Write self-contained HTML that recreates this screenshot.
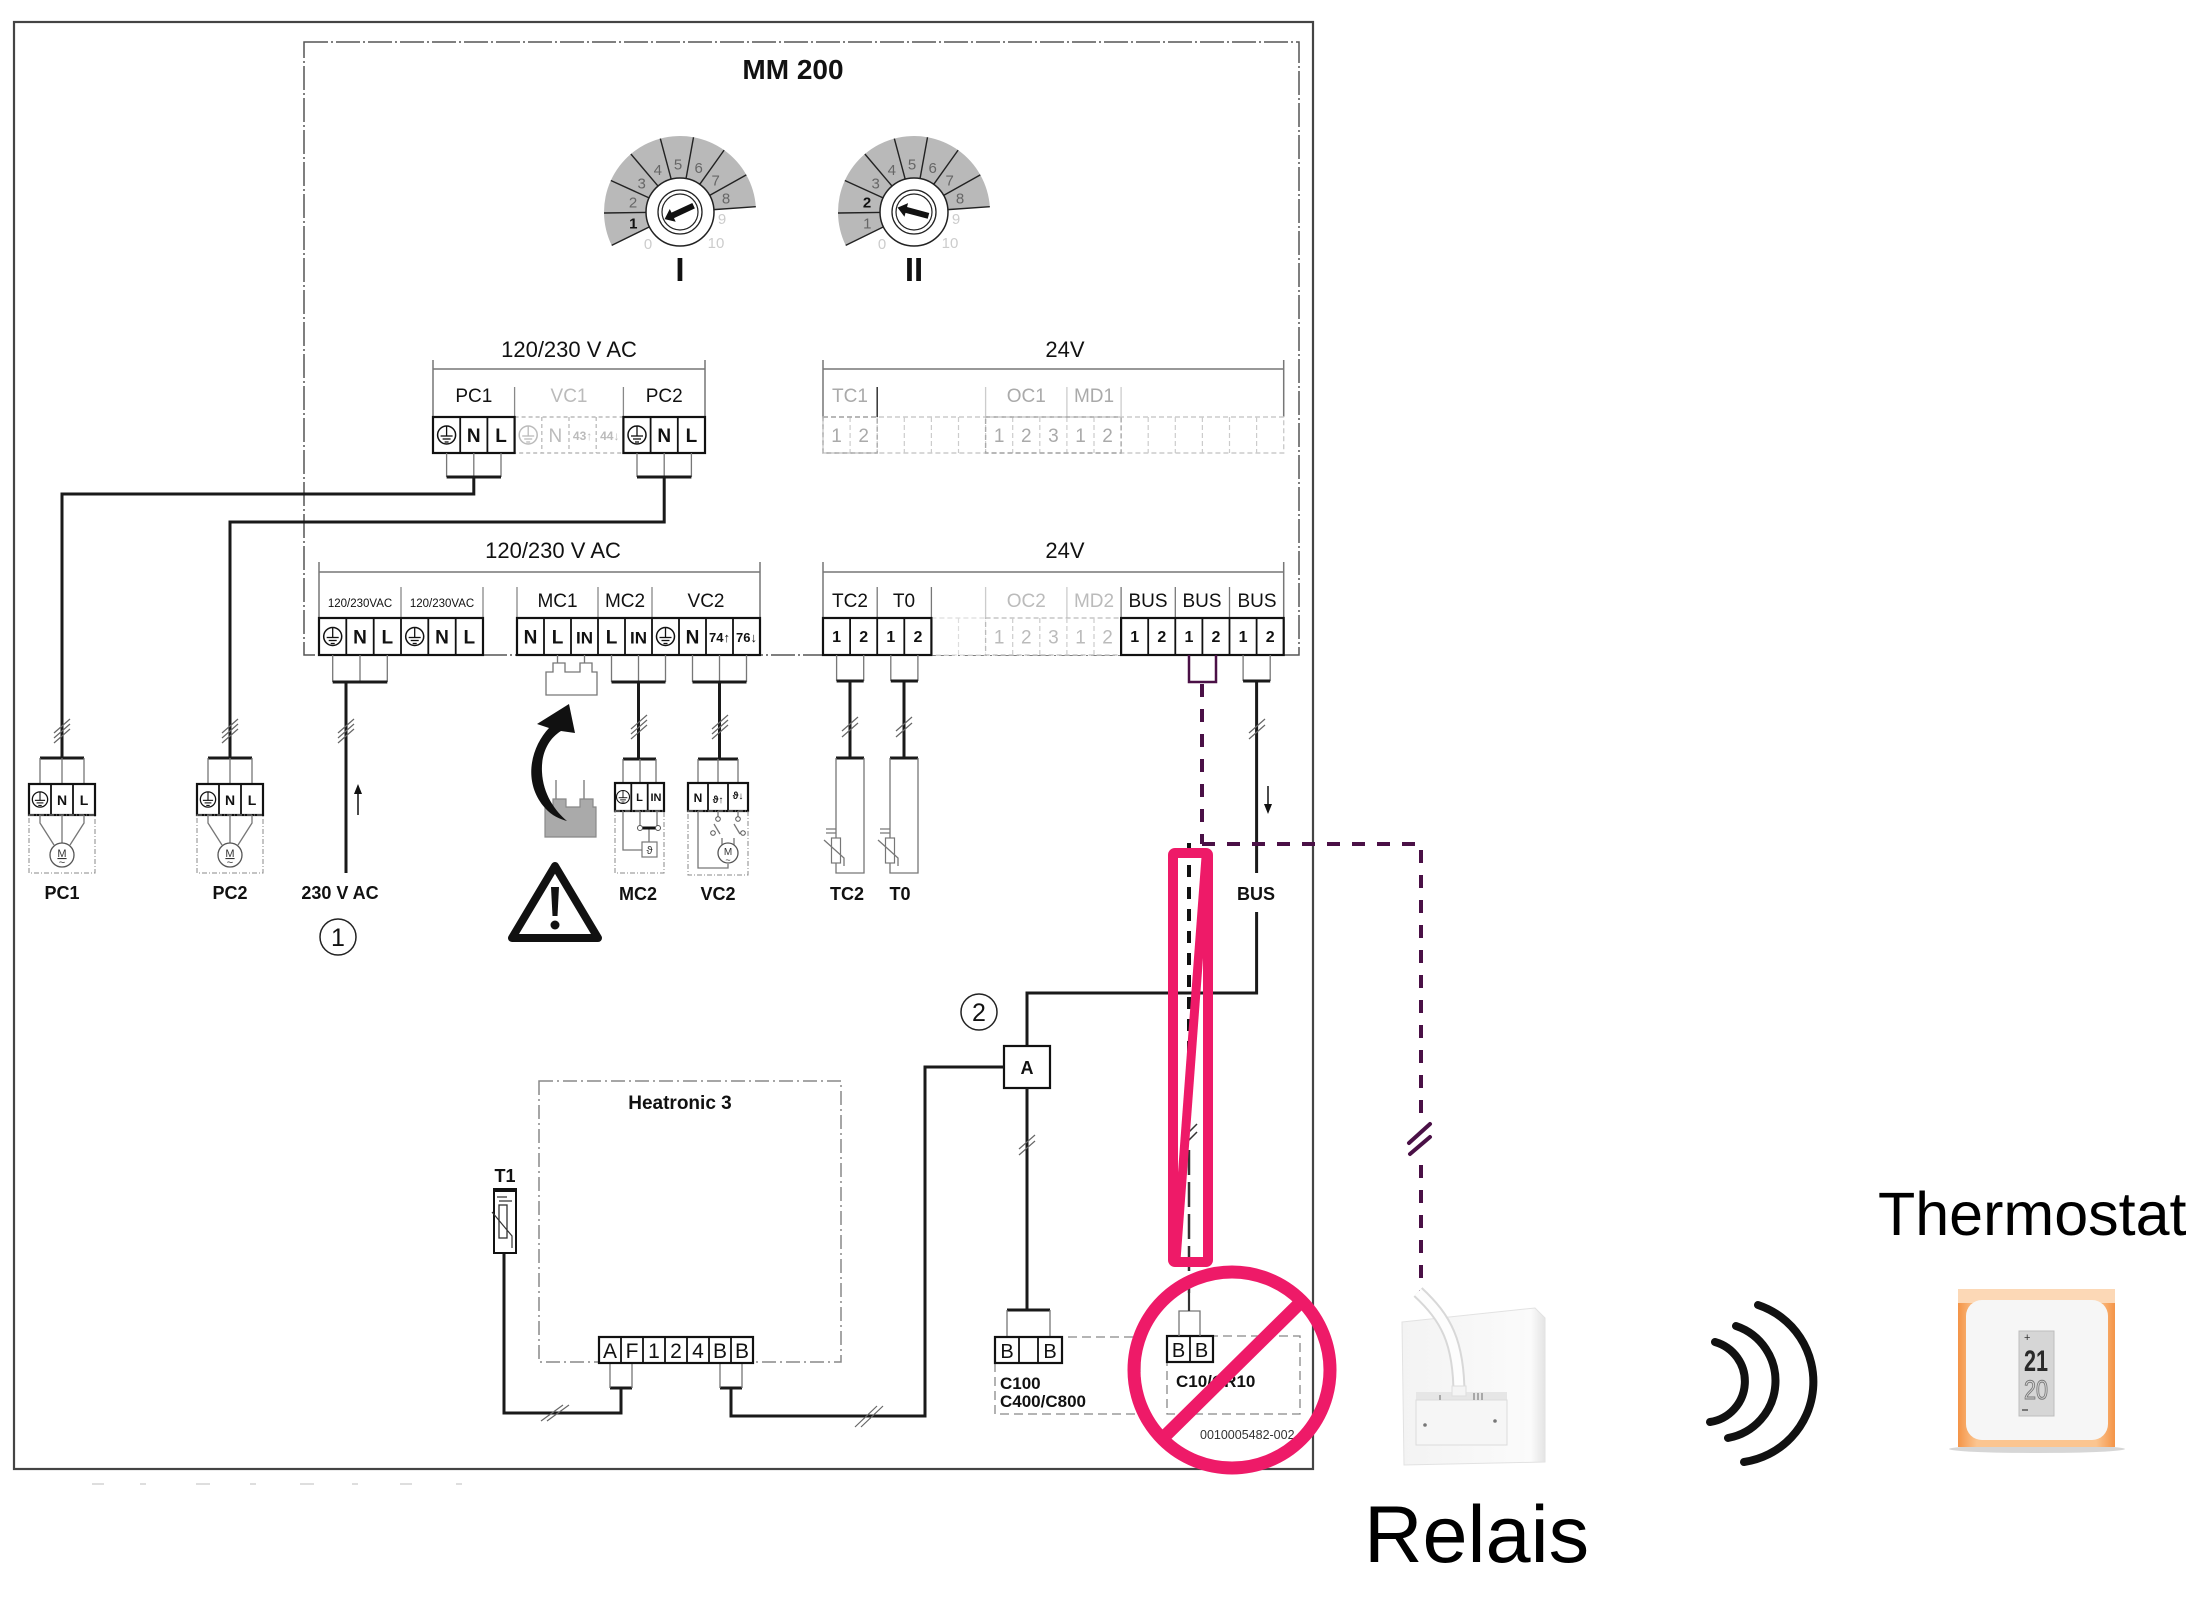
<!DOCTYPE html>
<html><head><meta charset="utf-8">
<style>
html,body{margin:0;padding:0;background:#fff;}
svg{display:block;}
text{font-family:"Liberation Sans",Arial,sans-serif;}
.w{stroke:#1a1a1a;stroke-width:3;fill:none;}
.t{stroke:#777;stroke-width:1.3;fill:none;}
.s{stroke:#111;stroke-width:2.2;fill:#fff;}
.d{stroke:#111;stroke-width:1.8;}
.h{stroke:#666;stroke-width:1.2;}
</style></head><body>
<svg width="2210" height="1612" viewBox="0 0 2210 1612" xmlns="http://www.w3.org/2000/svg">
<defs>
<g id="gnd"><circle r="9" fill="#fff" stroke="#111" stroke-width="1.5"/><line x1="0" y1="-9" x2="0" y2="1" stroke="#111" stroke-width="1.3"/><line x1="-6" y1="1" x2="6" y2="1" stroke="#111" stroke-width="1.3"/><line x1="-4" y1="4" x2="4" y2="4" stroke="#111" stroke-width="1.3"/><line x1="-2" y1="7" x2="2" y2="7" stroke="#111" stroke-width="1.3"/></g>
<g id="gndl"><circle r="9" fill="#fff" stroke="#bbb" stroke-width="1.5"/><line x1="0" y1="-9" x2="0" y2="1" stroke="#bbb" stroke-width="1.3"/><line x1="-6" y1="1" x2="6" y2="1" stroke="#bbb" stroke-width="1.3"/><line x1="-4" y1="4" x2="4" y2="4" stroke="#bbb" stroke-width="1.3"/><line x1="-2" y1="7" x2="2" y2="7" stroke="#bbb" stroke-width="1.3"/></g>
<g id="h3"><line x1="-8" y1="3" x2="8" y2="-11" class="h"/><line x1="-8" y1="8" x2="8" y2="-6" class="h"/><line x1="-8" y1="13" x2="8" y2="-1" class="h"/></g>
<g id="h2"><line x1="-8" y1="4" x2="8" y2="-10" class="h"/><line x1="-8" y1="10" x2="8" y2="-4" class="h"/></g>
<g id="sector">
<path d="M-68.31,33.32 A76,76 0 1 1 75.82,-5.30 L33.92,-2.37 A34,34 0 1 0 -30.56,14.91 Z" fill="#b9b9b9"/>
<g stroke="#222" stroke-width="1.4">
<line x1="-30.56" y1="14.91" x2="-68.31" y2="33.32"/>
<line x1="-34" y1="0.45" x2="-76" y2="0.99"/>
<line x1="-30.94" y1="-14.1" x2="-69.16" y2="-31.52"/>
<line x1="-21.98" y1="-25.94" x2="-49.13" y2="-57.99"/>
<line x1="-8.8" y1="-32.84" x2="-19.67" y2="-73.41"/>
<line x1="6.05" y1="-33.46" x2="13.52" y2="-74.78"/>
<line x1="19.74" y1="-27.68" x2="44.13" y2="-61.87"/>
<line x1="29.67" y1="-16.61" x2="66.31" y2="-37.13"/>
<line x1="33.92" y1="-2.37" x2="75.82" y2="-5.3"/>
</g>
<circle r="34" fill="#fff" stroke="#222" stroke-width="1.5"/>
<circle r="22" fill="#fff" stroke="#222" stroke-width="1.3"/>
<circle r="18" fill="#fff" stroke="#222" stroke-width="1.2"/>
</g>
<linearGradient id="og" x1="0" x2="1" y1="0" y2="0"><stop offset="0" stop-color="#f49447"/><stop offset="0.12" stop-color="#fbc590"/><stop offset="0.88" stop-color="#fbc590"/><stop offset="1" stop-color="#f49447"/></linearGradient>
<linearGradient id="rg" x1="0" x2="1" y1="0" y2="0"><stop offset="0" stop-color="#f3f3f3"/><stop offset="0.9" stop-color="#fbfbfb"/><stop offset="1" stop-color="#e4e4e4"/></linearGradient>
</defs>
<rect width="2210" height="1612" fill="#fff"/>

<!-- outer frame -->
<rect x="14" y="22" width="1299" height="1447" fill="none" stroke="#444" stroke-width="2.2"/>
<!-- faint caption fragments -->
<g stroke="#c8c8c8" stroke-width="1.2">
<line x1="92" y1="1484" x2="104" y2="1484"/><line x1="140" y1="1484" x2="146" y2="1484"/><line x1="196" y1="1484" x2="210" y2="1484"/><line x1="250" y1="1484" x2="256" y2="1484"/><line x1="300" y1="1484" x2="314" y2="1484"/><line x1="352" y1="1484" x2="358" y2="1484"/><line x1="400" y1="1484" x2="412" y2="1484"/><line x1="456" y1="1484" x2="462" y2="1484"/>
</g>

<!-- MM200 dashed box -->
<rect x="304" y="42" width="995" height="613" fill="none" stroke="#555" stroke-width="1.5" stroke-dasharray="24 3 2 3"/>
<text x="793" y="79" font-size="28" font-weight="bold" text-anchor="middle" fill="#111">MM 200</text>

<!-- Dials -->
<g transform="translate(680,212)">
<use href="#sector"/>
<path d="M-17,0 L-8,-7 L-8,-3 L15,-3 L15,3 L-8,3 L-8,7 Z" fill="#111" transform="rotate(-25)"/>
<g font-size="15" text-anchor="middle" fill="#666">
<text x="-46.7" y="16.5" font-weight="bold" fill="#111">1</text>
<text x="-47" y="-4.5">2</text><text x="-38.3" y="-23.6">3</text><text x="-22.2" y="-37.1">4</text><text x="-2" y="-42.6">5</text><text x="18.7" y="-38.8">6</text><text x="35.7" y="-26.7">7</text><text x="46" y="-8.3">8</text>
<text x="42" y="12" fill="#ccc">9</text><text x="36" y="36" fill="#ccc">10</text><text x="-32" y="37" fill="#ccc">0</text>
</g>
</g>
<text x="680" y="281" font-size="33" font-weight="bold" text-anchor="middle" fill="#111">I</text>
<g transform="translate(914,212)">
<use href="#sector"/>
<path d="M-17,0 L-8,-7 L-8,-3 L15,-3 L15,3 L-8,3 L-8,7 Z" fill="#111" transform="rotate(15)"/>
<g font-size="15" text-anchor="middle" fill="#666">
<text x="-46.7" y="16.5">1</text>
<text x="-47" y="-4.5" font-weight="bold" fill="#111">2</text><text x="-38.3" y="-23.6">3</text><text x="-22.2" y="-37.1">4</text><text x="-2" y="-42.6">5</text><text x="18.7" y="-38.8">6</text><text x="35.7" y="-26.7">7</text><text x="46" y="-8.3">8</text>
<text x="42" y="12" fill="#ccc">9</text><text x="36" y="36" fill="#ccc">10</text><text x="-32" y="37" fill="#ccc">0</text>
</g>
</g>
<text x="914" y="281" font-size="33" font-weight="bold" text-anchor="middle" fill="#111">II</text>

<!-- ===== TOP 120/230 ===== -->
<text x="569" y="357" font-size="22" text-anchor="middle" fill="#111">120/230 V AC</text>
<path d="M433,417 V360 M433,369 H705 M705,360 V417" stroke="#777" stroke-width="1.5" fill="none"/>
<line x1="514.6" y1="387" x2="514.6" y2="417" stroke="#888" stroke-width="1.3"/>
<line x1="623.4" y1="387" x2="623.4" y2="417" stroke="#888" stroke-width="1.3"/>
<g font-size="19" text-anchor="middle">
<text x="473.8" y="402" fill="#111">PC1</text><text x="569" y="402" fill="#bbb">VC1</text><text x="664.2" y="402" fill="#111">PC2</text>
</g>
<rect x="514.6" y="417" width="108.8" height="36" fill="#fff" stroke="#bbb" stroke-width="1.5" stroke-dasharray="4 3"/>
<g stroke="#bbb" stroke-width="1.3" stroke-dasharray="4 3"><line x1="541.8" y1="417" x2="541.8" y2="453"/><line x1="569" y1="417" x2="569" y2="453"/><line x1="596.2" y1="417" x2="596.2" y2="453"/></g>
<rect x="433" y="417" width="81.6" height="36" class="s"/>
<rect x="623.4" y="417" width="81.6" height="36" class="s"/>
<g class="d"><line x1="460.2" y1="417" x2="460.2" y2="453"/><line x1="487.4" y1="417" x2="487.4" y2="453"/><line x1="650.6" y1="417" x2="650.6" y2="453"/><line x1="677.8" y1="417" x2="677.8" y2="453"/></g>
<use href="#gnd" x="446.6" y="435"/><use href="#gnd" x="637" y="435"/><use href="#gndl" x="528.2" y="435"/>
<g font-size="19" font-weight="bold" text-anchor="middle" fill="#111">
<text x="473.8" y="442">N</text><text x="501" y="442">L</text><text x="664.2" y="442">N</text><text x="691.4" y="442">L</text>
</g>
<text x="555.4" y="442" font-size="19" text-anchor="middle" fill="#bbb">N</text>
<text x="582.6" y="440" font-size="12" font-weight="bold" text-anchor="middle" fill="#bbb">43↑</text>
<text x="609.8" y="440" font-size="12" font-weight="bold" text-anchor="middle" fill="#bbb">44↓</text>
<!-- PC1 / PC2 wiring from top strip -->
<path d="M446.6,453 V477 M473.8,453 V477 M501,453 V477 M637,453 V477 M664.2,453 V477 M691.4,453 V477" class="t"/>
<path d="M446.6,477 H501 M473.8,477 V494 H62 V758" class="w"/>
<path d="M637,477 H691.4 M664.2,477 V522 H230 V758" class="w"/>

<!-- ===== TOP 24V ===== -->
<text x="1065" y="357" font-size="22" text-anchor="middle" fill="#111">24V</text>
<path d="M823,417 V360 M823,369 H1283.7 M1283.7,360 V417" stroke="#777" stroke-width="1.5" fill="none"/>
<line x1="877.2" y1="387" x2="877.2" y2="417" stroke="#333" stroke-width="1.5"/>
<g stroke="#ccc" stroke-width="1.3"><line x1="985.6" y1="387" x2="985.6" y2="417"/><line x1="1066.9" y1="387" x2="1066.9" y2="417"/><line x1="1121.1" y1="387" x2="1121.1" y2="417"/></g>
<g font-size="19" text-anchor="middle" fill="#aaa">
<text x="850" y="402">TC1</text><text x="1026.3" y="402">OC1</text><text x="1094" y="402">MD1</text>
</g>
<rect x="823" y="417" width="460.7" height="36" fill="#fff" stroke="#ccc" stroke-width="1.4" stroke-dasharray="5 3"/>
<g stroke="#ccc" stroke-width="1.2" stroke-dasharray="5 3">
<line x1="850.1" y1="417" x2="850.1" y2="453"/><line x1="877.2" y1="417" x2="877.2" y2="453"/><line x1="904.3" y1="417" x2="904.3" y2="453"/><line x1="931.4" y1="417" x2="931.4" y2="453"/><line x1="958.5" y1="417" x2="958.5" y2="453"/><line x1="985.6" y1="417" x2="985.6" y2="453"/><line x1="1012.7" y1="417" x2="1012.7" y2="453"/><line x1="1039.8" y1="417" x2="1039.8" y2="453"/><line x1="1066.9" y1="417" x2="1066.9" y2="453"/><line x1="1094" y1="417" x2="1094" y2="453"/><line x1="1121.1" y1="417" x2="1121.1" y2="453"/><line x1="1148.2" y1="417" x2="1148.2" y2="453"/><line x1="1175.3" y1="417" x2="1175.3" y2="453"/><line x1="1202.4" y1="417" x2="1202.4" y2="453"/><line x1="1229.5" y1="417" x2="1229.5" y2="453"/><line x1="1256.6" y1="417" x2="1256.6" y2="453"/>
</g>
<rect x="823" y="417" width="54.2" height="36" fill="none" stroke="#aaa" stroke-width="1.4" stroke-dasharray="5 3"/>
<rect x="985.6" y="417" width="135.5" height="36" fill="none" stroke="#aaa" stroke-width="1.4" stroke-dasharray="5 3"/>
<g font-size="19" text-anchor="middle" fill="#aaa">
<text x="836.6" y="442">1</text><text x="863.7" y="442">2</text><text x="999.2" y="442">1</text><text x="1026.3" y="442">2</text><text x="1053.4" y="442">3</text><text x="1080.5" y="442">1</text><text x="1107.6" y="442">2</text>
</g>

<!-- ===== BOTTOM 120/230 ===== -->
<text x="553" y="558" font-size="22" text-anchor="middle" fill="#111">120/230 V AC</text>
<path d="M319,618 V562 M319,572 H760 M760,562 V618" stroke="#777" stroke-width="1.5" fill="none"/>
<g stroke="#888" stroke-width="1.3"><line x1="401" y1="587" x2="401" y2="618"/><line x1="483" y1="587" x2="483" y2="618"/><line x1="517" y1="587" x2="517" y2="618"/><line x1="598" y1="587" x2="598" y2="618"/><line x1="652" y1="587" x2="652" y2="618"/></g>
<g font-size="11.5" text-anchor="middle" fill="#111"><text x="360" y="607">120/230VAC</text><text x="442" y="607">120/230VAC</text></g>
<g font-size="19" text-anchor="middle" fill="#111"><text x="557.5" y="607">MC1</text><text x="625" y="607">MC2</text><text x="706" y="607">VC2</text></g>
<rect x="319" y="618" width="164" height="37" class="s"/>
<rect x="517" y="618" width="243" height="37" class="s"/>
<g class="d">
<line x1="346.3" y1="618" x2="346.3" y2="655"/><line x1="373.7" y1="618" x2="373.7" y2="655"/><line x1="401" y1="618" x2="401" y2="655"/><line x1="428.3" y1="618" x2="428.3" y2="655"/><line x1="455.7" y1="618" x2="455.7" y2="655"/>
<line x1="544" y1="618" x2="544" y2="655"/><line x1="571" y1="618" x2="571" y2="655"/><line x1="598" y1="618" x2="598" y2="655"/><line x1="625" y1="618" x2="625" y2="655"/><line x1="652" y1="618" x2="652" y2="655"/><line x1="679" y1="618" x2="679" y2="655"/><line x1="706" y1="618" x2="706" y2="655"/><line x1="733" y1="618" x2="733" y2="655"/>
</g>
<use href="#gnd" x="332.7" y="636.5"/><use href="#gnd" x="414.7" y="636.5"/><use href="#gnd" x="665.5" y="636.5"/>
<g font-size="19" font-weight="bold" text-anchor="middle" fill="#111">
<text x="360" y="643.5">N</text><text x="387.3" y="643.5">L</text><text x="442" y="643.5">N</text><text x="469.3" y="643.5">L</text>
<text x="530.5" y="643.5">N</text><text x="557.5" y="643.5">L</text><text x="584.5" y="643.5" font-size="17">IN</text><text x="611.5" y="643.5">L</text><text x="638.5" y="643.5" font-size="17">IN</text><text x="692.5" y="643.5">N</text>
<text x="719.5" y="642" font-size="13">74↑</text><text x="746.5" y="642" font-size="13">76↓</text>
</g>
<!-- bottom 120/230 wiring -->
<path d="M332.7,655 V682 M360,655 V682 M387.3,655 V682" class="t"/>
<path d="M332.7,682 H387.3 M346,682 V873" class="w"/>
<path d="M557.5,655 V663 M584.5,655 V663" class="t"/>
<path d="M546,695 V672 H553 V663 H565 V672 H580 V663 H592 V672 H597 V695 Z" fill="#fff" stroke="#777" stroke-width="1.3"/>
<path d="M611.5,655 V682 M638.5,655 V682 M665.5,655 V682 M692.5,655 V682 M719.5,655 V682 M746.5,655 V682" class="t"/>
<path d="M611.5,682 H665.5 M638.5,682 V759 M692.5,682 H746.5 M719.5,682 V759" class="w"/>

<!-- ===== BOTTOM 24V ===== -->
<text x="1065" y="558" font-size="22" text-anchor="middle" fill="#111">24V</text>
<path d="M823,618 V562 M823,572 H1283.7 M1283.7,562 V618" stroke="#777" stroke-width="1.5" fill="none"/>
<g stroke="#777" stroke-width="1.3"><line x1="877.2" y1="587" x2="877.2" y2="618"/><line x1="931.4" y1="587" x2="931.4" y2="618"/><line x1="1121.1" y1="587" x2="1121.1" y2="618"/><line x1="1175.3" y1="587" x2="1175.3" y2="618"/><line x1="1229.5" y1="587" x2="1229.5" y2="618"/></g>
<g stroke="#ccc" stroke-width="1.3"><line x1="985.6" y1="587" x2="985.6" y2="618"/><line x1="1066.9" y1="587" x2="1066.9" y2="618"/></g>
<g font-size="19" text-anchor="middle" fill="#111">
<text x="850" y="607">TC2</text><text x="904" y="607">T0</text><text x="1026.3" y="607" fill="#bbb">OC2</text><text x="1094" y="607" fill="#bbb">MD2</text><text x="1148" y="607">BUS</text><text x="1202" y="607">BUS</text><text x="1257" y="607">BUS</text>
</g>
<rect x="931.4" y="618" width="54.2" height="37" fill="#fff" stroke="#ddd" stroke-width="1.3" stroke-dasharray="5 3"/>
<line x1="958.5" y1="618" x2="958.5" y2="655" stroke="#ddd" stroke-width="1.2" stroke-dasharray="5 3"/>
<rect x="985.6" y="618" width="135.5" height="37" fill="#fff" stroke="#bbb" stroke-width="1.3" stroke-dasharray="5 3"/>
<g stroke="#ccc" stroke-width="1.2" stroke-dasharray="5 3"><line x1="1012.7" y1="618" x2="1012.7" y2="655"/><line x1="1039.8" y1="618" x2="1039.8" y2="655"/><line x1="1066.9" y1="618" x2="1066.9" y2="655"/><line x1="1094" y1="618" x2="1094" y2="655"/></g>
<g font-size="19" text-anchor="middle" fill="#bbb"><text x="999.2" y="643.5">1</text><text x="1026.3" y="643.5">2</text><text x="1053.4" y="643.5">3</text><text x="1080.5" y="643.5">1</text><text x="1107.6" y="643.5">2</text></g>
<rect x="823" y="618" width="108.4" height="37" class="s"/>
<rect x="1121.1" y="618" width="162.6" height="37" class="s"/>
<g class="d">
<line x1="850.1" y1="618" x2="850.1" y2="655"/><line x1="877.2" y1="618" x2="877.2" y2="655"/><line x1="904.3" y1="618" x2="904.3" y2="655"/>
<line x1="1148.2" y1="618" x2="1148.2" y2="655"/><line x1="1175.3" y1="618" x2="1175.3" y2="655"/><line x1="1202.4" y1="618" x2="1202.4" y2="655"/><line x1="1229.5" y1="618" x2="1229.5" y2="655"/><line x1="1256.6" y1="618" x2="1256.6" y2="655"/>
</g>
<g font-size="16" font-weight="bold" text-anchor="middle" fill="#111">
<text x="836.6" y="642">1</text><text x="863.7" y="642">2</text><text x="890.8" y="642">1</text><text x="917.9" y="642">2</text>
<text x="1134.7" y="642">1</text><text x="1161.8" y="642">2</text><text x="1188.9" y="642">1</text><text x="1216" y="642">2</text><text x="1243.1" y="642">1</text><text x="1270.2" y="642">2</text>
</g>
<!-- 24V wiring -->
<path d="M836.6,655 V681 M863.7,655 V681 M890.8,655 V681 M917.9,655 V681 M1243.1,655 V681 M1270.2,655 V681" class="t"/>
<path d="M836.6,681 H863.7 M850,681 V758 M890.8,681 H917.9 M904,681 V758 M1243.1,681 H1270.2 M1256.6,681 V873 M1256.6,912 V993 H1027 V1046" class="w"/>

<!-- ===== PC1 / PC2 devices ===== -->
<g>
<path d="M40,758 H84 M208,758 H252" class="w"/>
<path d="M40,758 V784 M62,758 V784 M84,758 V784 M208,758 V784 M230,758 V784 M252,758 V784" class="t"/>
<rect x="29" y="784" width="66" height="31" class="s"/><rect x="197" y="784" width="66" height="31" class="s"/>
<g class="d"><line x1="51" y1="784" x2="51" y2="815"/><line x1="73" y1="784" x2="73" y2="815"/><line x1="219" y1="784" x2="219" y2="815"/><line x1="241" y1="784" x2="241" y2="815"/></g>
<use href="#gnd" transform="translate(40,799.5) scale(0.85)"/><use href="#gnd" transform="translate(208,799.5) scale(0.85)"/>
<g font-size="14" font-weight="bold" text-anchor="middle" fill="#111"><text x="62" y="805">N</text><text x="84" y="805">L</text><text x="230" y="805">N</text><text x="252" y="805">L</text></g>
<rect x="29" y="815" width="66" height="58" fill="none" stroke="#888" stroke-width="1" stroke-dasharray="5 2 1 2"/>
<rect x="197" y="815" width="66" height="58" fill="none" stroke="#888" stroke-width="1" stroke-dasharray="5 2 1 2"/>
<path d="M40,815 V823 L54,845 M62,815 V843 M84,815 V823 L70,845 M208,815 V823 L222,845 M230,815 V843 M252,815 V823 L238,845" class="t"/>
<circle cx="62" cy="855" r="12" fill="#fff" stroke="#555" stroke-width="1.3"/><circle cx="230" cy="855" r="12" fill="#fff" stroke="#555" stroke-width="1.3"/>
<g font-size="11" text-anchor="middle" fill="#333"><text x="62" y="857" text-decoration="underline">M</text><text x="62" y="866">~</text><text x="230" y="857" text-decoration="underline">M</text><text x="230" y="866">~</text></g>
<g font-size="18" font-weight="bold" text-anchor="middle" fill="#111"><text x="62" y="899">PC1</text><text x="230" y="899">PC2</text><text x="340" y="899">230 V AC</text></g>
</g>
<use href="#h3" x="62" y="730"/><use href="#h3" x="230" y="730"/><use href="#h3" x="346" y="730"/>
<path d="M358,815 V792" stroke="#111" stroke-width="1.5"/><path d="M354,794 L358,784 L362,794 Z" fill="#111"/>
<circle cx="338" cy="937" r="18" fill="none" stroke="#222" stroke-width="1.5"/><text x="338" y="946" font-size="25" text-anchor="middle" fill="#111">1</text>

<!-- ===== MC1 arrow + warning ===== -->
<path d="M556,780 V807 M584,780 V807" class="t"/>
<path d="M545,837 V807 H553 V799 H566 V807 H580 V799 H593 V807 H596 V837 Z" fill="#aaa" stroke="#888" stroke-width="1.2"/>
<path d="M569,704 L537,724 L549,728 C531,747 522,782 545,808 C552,816 560,819 567,821 C555,811 543,794 542,772 C541,754 548,739 561,731 L575,733 Z" fill="#111"/>
<path d="M555,866 L512,938 L598,938 Z" fill="none" stroke="#111" stroke-width="8" stroke-linejoin="round"/>
<path d="M551,887 L559,887 L557.5,916 L552.5,916 Z" fill="#111"/><circle cx="555" cy="925" r="4.5" fill="#111"/>

<!-- ===== MC2 device ===== -->
<use href="#h3" x="639" y="726"/><use href="#h3" x="720" y="726"/>
<path d="M623,759 H656 M698,759 H738" class="w"/>
<path d="M623,759 V783 M640,759 V783 M656,759 V783 M698,759 V783 M718,759 V783 M738,759 V783" class="t"/>
<rect x="615" y="783" width="49" height="28" class="s"/>
<g class="d"><line x1="631.3" y1="783" x2="631.3" y2="811"/><line x1="647.7" y1="783" x2="647.7" y2="811"/></g>
<use href="#gnd" transform="translate(623,797) scale(0.72)"/>
<g font-size="11" font-weight="bold" text-anchor="middle" fill="#111"><text x="639.5" y="801">L</text><text x="656" y="801">IN</text></g>
<rect x="615" y="811" width="49" height="62" fill="none" stroke="#888" stroke-width="1" stroke-dasharray="5 2 1 2"/>
<path d="M623,811 V850 H642 M640,811 V826 M657,811 V826 M649,828 V842" class="t"/>
<line x1="640" y1="828" x2="658" y2="828" stroke="#111" stroke-width="3"/>
<circle cx="640" cy="828" r="2.5" fill="#fff" stroke="#555"/><circle cx="658" cy="828" r="2.5" fill="#fff" stroke="#555"/>
<rect x="642" y="842" width="15" height="15" fill="#fff" stroke="#777" stroke-width="1.2"/>
<text x="649.5" y="854" font-size="11" text-anchor="middle" fill="#333">ϑ</text>
<!-- VC2 device -->
<rect x="688" y="783" width="60" height="28" class="s"/>
<g class="d"><line x1="708" y1="783" x2="708" y2="811"/><line x1="728" y1="783" x2="728" y2="811"/></g>
<g font-size="12" font-weight="bold" text-anchor="middle" fill="#111"><text x="698" y="802">N</text><text x="718" y="803" font-size="10">ϑ↑</text><text x="738" y="799" font-size="10">ϑ↓</text></g>
<rect x="688" y="811" width="60" height="64" fill="none" stroke="#888" stroke-width="1" stroke-dasharray="5 2 1 2"/>
<path d="M698,811 V868 H728 V864 M718,811 V818 M738,811 V818 M714,824 L720,834 M734,824 L740,834 M722,838 V845 M734,838 V845" class="t"/>
<circle cx="718" cy="819" r="2.3" fill="#fff" stroke="#555"/><circle cx="738" cy="819" r="2.3" fill="#fff" stroke="#555"/>
<circle cx="713" cy="833" r="2.3" fill="#fff" stroke="#555"/><circle cx="743" cy="833" r="2.3" fill="#fff" stroke="#555"/>
<circle cx="728" cy="853" r="10" fill="#fff" stroke="#555" stroke-width="1.3"/>
<text x="728" y="855" font-size="10" text-anchor="middle" fill="#333">M</text><text x="728" y="863" font-size="9" text-anchor="middle" fill="#333">~</text>
<g font-size="18" font-weight="bold" text-anchor="middle" fill="#111"><text x="638" y="900">MC2</text><text x="718" y="900">VC2</text></g>

<!-- ===== TC2 / T0 sensors ===== -->
<use href="#h2" x="850" y="727"/><use href="#h2" x="904" y="727"/><use href="#h2" x="1257" y="729"/>
<path d="M836,758 H864 M890,758 H918" class="w"/>
<path d="M836,758 V838 M836,863 V873 H864 V758 M890,758 V838 M890,863 V873 H918 V758" class="t"/>
<rect x="831.5" y="838" width="9" height="25" fill="#fff" stroke="#777" stroke-width="1.2"/>
<rect x="885.5" y="838" width="9" height="25" fill="#fff" stroke="#777" stroke-width="1.2"/>
<path d="M824,840 L844,858 V866 M878,840 L898,858 V866 M826,829 H836 M826,833 H836 M880,829 H890 M880,833 H890" class="t"/>
<g font-size="18" font-weight="bold" text-anchor="middle" fill="#111"><text x="847" y="900">TC2</text><text x="900" y="900">T0</text><text x="1256" y="900">BUS</text></g>
<path d="M1268,786 V806" stroke="#111" stroke-width="1.5"/><path d="M1264,804 L1268,814 L1272,804 Z" fill="#111"/>

<!-- circle 2 -->
<circle cx="979" cy="1012" r="18" fill="none" stroke="#222" stroke-width="1.5"/><text x="979" y="1021" font-size="25" text-anchor="middle" fill="#111">2</text>

<!-- A box and wiring -->
<rect x="1004" y="1046" width="46" height="42" class="s"/>
<text x="1027" y="1074" font-size="18" font-weight="bold" text-anchor="middle" fill="#111">A</text>
<path d="M1027,1088 V1310 M1007,1310 H1050 M1004,1067 H925 V1416 H731 V1388 M720,1388 H742 M621,1388 V1413 H504 V1253 M610,1388 H632" class="w"/>
<use href="#h2" x="1027" y="1145"/>
<g class="h"><line x1="541" y1="1421" x2="563" y2="1405"/><line x1="547" y1="1421" x2="569" y2="1405"/><line x1="855" y1="1427" x2="877" y2="1406"/><line x1="861" y1="1427" x2="883" y2="1406"/></g>
<path d="M1007,1310 V1337 M1050,1310 V1337 M610,1363 V1388 M632,1363 V1388 M720,1363 V1388 M742,1363 V1388" class="t"/>

<!-- Heatronic -->
<rect x="539" y="1081" width="302" height="281" fill="none" stroke="#888" stroke-width="1.5" stroke-dasharray="14 4 2 4"/>
<text x="680" y="1109" font-size="19" font-weight="bold" text-anchor="middle" fill="#111">Heatronic 3</text>
<rect x="599" y="1337" width="154" height="26" class="s"/>
<g class="d"><line x1="621" y1="1337" x2="621" y2="1363"/><line x1="643" y1="1337" x2="643" y2="1363"/><line x1="665" y1="1337" x2="665" y2="1363"/><line x1="687" y1="1337" x2="687" y2="1363"/><line x1="709" y1="1337" x2="709" y2="1363"/><line x1="731" y1="1337" x2="731" y2="1363"/></g>
<g font-size="21" text-anchor="middle" fill="#111"><text x="610" y="1358">A</text><text x="632" y="1358">F</text><text x="654" y="1358">1</text><text x="676" y="1358">2</text><text x="698" y="1358">4</text><text x="720" y="1358">B</text><text x="742" y="1358">B</text></g>
<!-- T1 -->
<text x="505" y="1182" font-size="18" font-weight="bold" text-anchor="middle" fill="#111">T1</text>
<rect x="494" y="1189" width="22" height="64" fill="#fff" stroke="#111" stroke-width="2"/>
<line x1="494" y1="1190" x2="516" y2="1190" stroke="#111" stroke-width="4"/>
<rect x="499" y="1205" width="8" height="33" fill="#fff" stroke="#333" stroke-width="1.3"/>
<path d="M492,1212 L512,1236 V1248 M497,1197 H507 M499,1201 H512" stroke="#333" stroke-width="1.2" fill="none"/>

<!-- C100 -->
<path d="M995,1363 V1414 H1140 V1337 H1062" fill="none" stroke="#888" stroke-width="1.3" stroke-dasharray="9 5"/>
<rect x="995" y="1337" width="67" height="26" class="s"/>
<g class="d"><line x1="1019" y1="1337" x2="1019" y2="1363"/><line x1="1038" y1="1337" x2="1038" y2="1363"/></g>
<g font-size="20" text-anchor="middle" fill="#111"><text x="1007" y="1358">B</text><text x="1050" y="1358">B</text></g>
<g font-size="17" font-weight="bold" fill="#111"><text x="1000" y="1389">C100</text><text x="1000" y="1407">C400/C800</text></g>

<!-- C10 -->
<rect x="1167" y="1336" width="133" height="78" fill="none" stroke="#888" stroke-width="1.3" stroke-dasharray="9 5"/>
<rect x="1167" y="1336" width="46" height="26" class="s"/>
<line x1="1190" y1="1336" x2="1190" y2="1362" class="d"/>
<g font-size="20" text-anchor="middle" fill="#111"><text x="1178.5" y="1357">B</text><text x="1201.5" y="1357">B</text></g>
<path d="M1179,1336 V1311 H1200 V1336" class="t"/>
<text x="1176" y="1387" font-size="17" font-weight="bold" fill="#111">C10/CR10</text>
<text x="1200" y="1439" font-size="12.5" fill="#333">0010005482-002</text>

<!-- black dashed line -->
<line x1="1189" y1="843" x2="1189" y2="1125" stroke="#111" stroke-width="4" stroke-dasharray="12 10"/>
<line x1="1189" y1="1150" x2="1189" y2="1293" stroke="#333" stroke-width="2.5" stroke-dasharray="25 7"/>
<line x1="1189" y1="1293" x2="1189" y2="1311" stroke="#333" stroke-width="2.2"/>
<g stroke="#333" stroke-width="1.5"><line x1="1181" y1="1140" x2="1197" y2="1124"/><line x1="1181" y1="1148" x2="1197" y2="1132"/></g>

<!-- purple dashed -->
<path d="M1189,655 V682 H1216 V655" fill="none" stroke="#4a1046" stroke-width="2.5"/>
<line x1="1202" y1="684" x2="1202" y2="844" stroke="#4a1046" stroke-width="4" stroke-dasharray="13 12"/>
<line x1="1202" y1="844" x2="1421" y2="844" stroke="#4a1046" stroke-width="4" stroke-dasharray="13 12"/>
<line x1="1421" y1="850" x2="1421" y2="1120" stroke="#4a1046" stroke-width="4" stroke-dasharray="13 12"/>
<line x1="1421" y1="1165" x2="1421" y2="1292" stroke="#4a1046" stroke-width="4" stroke-dasharray="13 12"/>
<g stroke="#4a1046" stroke-width="4" stroke-linecap="round"><line x1="1410" y1="1154" x2="1430" y2="1137"/><line x1="1409" y1="1143" x2="1430" y2="1124"/></g>

<!-- red marks -->
<rect x="1173" y="853" width="35" height="409" rx="2" fill="none" stroke="#ee1a68" stroke-width="10"/>
<line x1="1206" y1="857" x2="1176" y2="1260" stroke="#ee1a68" stroke-width="9"/>
<circle cx="1232" cy="1370" r="98" fill="none" stroke="#ee1a68" stroke-width="13"/>
<line x1="1302" y1="1301" x2="1162" y2="1439" stroke="#ee1a68" stroke-width="13"/>

<!-- Relay -->
<polygon points="1402,1322 1535,1308 1545,1318 1545,1462 1404,1465" fill="url(#rg)" stroke="#e2e2e2" stroke-width="1"/>
<path d="M1418,1292 C1446,1318 1459,1342 1459,1395" stroke="#d8d8d8" stroke-width="13" fill="none"/>
<path d="M1418,1292 C1446,1318 1459,1342 1459,1395" stroke="#fdfdfd" stroke-width="9" fill="none"/>
<rect x="1416" y="1392" width="91" height="10" fill="#e6e6e6"/>
<rect x="1416" y="1400" width="91" height="45" fill="#f6f6f6" stroke="#dcdcdc" stroke-width="1"/>
<rect x="1452" y="1386" width="14" height="10" fill="#f4f4f4" stroke="#ddd"/>
<g stroke="#888" stroke-width="1.3"><line x1="1474" y1="1393" x2="1474" y2="1400"/><line x1="1478" y1="1393" x2="1478" y2="1400"/><line x1="1482" y1="1393" x2="1482" y2="1400"/><line x1="1440" y1="1395" x2="1440" y2="1400"/></g>
<circle cx="1425" cy="1425" r="1.8" fill="#777"/><circle cx="1495" cy="1421" r="1.8" fill="#777"/>

<!-- waves -->
<g stroke="#111" stroke-width="8" fill="none" stroke-linecap="round">
<path d="M1715,1342 A41,41 0 0 1 1710,1422"/>
<path d="M1736,1326 A58,58 0 0 1 1728,1438"/>
<path d="M1758,1305 A81,81 0 0 1 1744,1462"/>
</g>

<!-- Thermostat -->
<ellipse cx="2037" cy="1449" rx="88" ry="4" fill="#bbb" opacity="0.6"/>
<rect x="1958" y="1289" width="157" height="158" fill="url(#og)"/>
<rect x="1958" y="1289" width="157" height="14" fill="#fcd8b6"/>
<rect x="1966" y="1300" width="142" height="140" rx="16" fill="#f6f6f6"/>
<rect x="2019" y="1331" width="35" height="85" fill="#d6d6d6" stroke="#bdbdbd" stroke-width="1"/>
<text x="2024" y="1341" font-size="11" fill="#333">+</text>
<text x="2036" y="1371" font-size="30" font-weight="bold" text-anchor="middle" fill="#2a2a2a" textLength="24" lengthAdjust="spacingAndGlyphs">21</text>
<text x="2036" y="1399" font-size="27" text-anchor="middle" fill="none" stroke="#777" stroke-width="1" textLength="24" lengthAdjust="spacingAndGlyphs">20</text>
<line x1="2022" y1="1410" x2="2028" y2="1410" stroke="#444" stroke-width="1.3"/>

<!-- big labels -->
<text x="1878" y="1235" font-size="61" fill="#000">Thermostat</text>
<text x="1364" y="1562" font-size="81" fill="#000">Relais</text>
</svg>
</body></html>
